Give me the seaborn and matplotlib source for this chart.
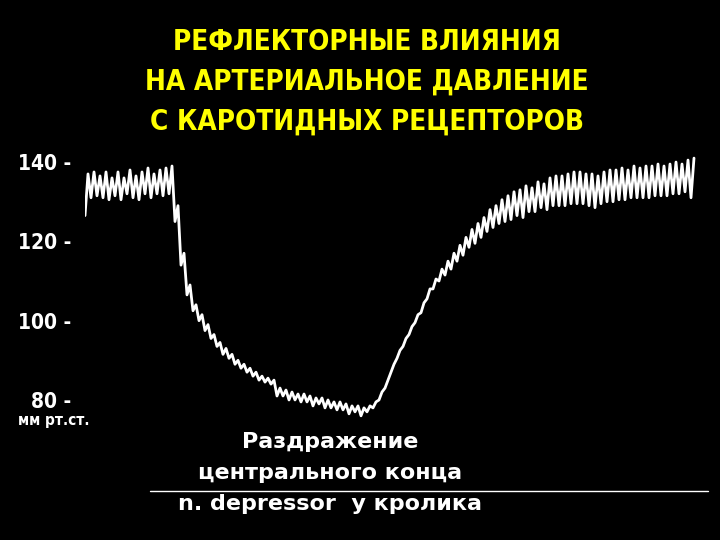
import matplotlib
matplotlib.use("Agg")
import matplotlib.pyplot as plt
import matplotlib.lines as mlines
import numpy as np
import pandas as pd
import seaborn as sns

# blood pressure trace: one value pair per pulse beat
beat_time = list(range(0, 612, 6))  # chart paper position of each beat
systolic = [137, 137.5, 136.5, 137.5, 136, 137.5, 136, 138, 136.5, 137.5, 138.5, 137, 138, 138.5, 139,
            129, 117, 109, 104, 101.5, 99, 96.5, 94.5, 93, 91.5, 90, 89, 88, 87, 86, 85.5, 85,
            83, 82.5, 82, 81.5, 81.5, 81, 80.5, 80.5, 80, 79.5, 79.5, 79, 78.5, 78.5, 78, 78.5, 79.5,
            82, 85, 89, 92.5, 95.5, 98.5, 101.5, 104.5, 108, 110.5,
            113, 115, 117, 119, 121, 123, 124.5, 126, 128, 129, 130.5,
            131.5, 132.5, 133, 134, 133.5, 135, 134.5, 136, 136.5, 136.5,
            137, 137.5, 137.5, 137, 137, 136.5, 137.5, 138, 138, 138.5, 138, 139, 138.5, 139, 139, 139.5,
            139, 139.5, 140, 139.5, 140.5, 141]
diastolic = [126.5, 131, 131.5, 131, 130.5, 131.5, 130.5, 132, 131, 130.5, 132, 131, 132, 131.5, 132,
             125, 114, 106.5,
             102.5, 100, 97.5, 95.5, 93.5, 91.5, 90.5, 89, 88, 87, 86, 85, 84.5, 84,
             81, 81, 80, 80, 79.5, 79.5, 78.5, 79, 78, 78, 77.5, 77.5, 76.5, 77, 76, 77, 78,
             80, 83, 87, 90.5, 93.5, 96.5, 99.5, 102, 105.5, 108,
             110, 111.5, 113, 115, 116.5, 118.5, 119.5, 121, 122.5, 123.5, 124.5,
             125, 125.5, 126.5, 126, 127.5, 127.5, 128.5, 128, 129, 129,
             129, 129.5, 129.5, 129.5, 129, 128.5, 129.5, 130, 130, 130.5, 130.5, 131, 131, 131, 131, 131.5,
             131.5, 131.5, 132, 132, 132.5, 131]

pressure_ticks = [80, 100, 120, 140]
tick_labels = ["80 -", "100 -", "120 -", "140 -"]
title_lines = ["РЕФЛЕКТОРНЫЕ ВЛИЯНИЯ", "НА АРТЕРИАЛЬНОЕ ДАВЛЕНИЕ", "С КАРОТИДНЫХ РЕЦЕПТОРОВ"]
caption_lines = ["Раздражение", "центрального конца", "n. depressor  у кролика"]
unit_label = "мм рт.ст."

sns.set_theme(style="dark", rc={"figure.facecolor": "black", "axes.facecolor": "black"})
narrow = dict(family="DejaVu Sans", stretch="condensed", fontweight="bold")

# build the zigzag: diastolic trough then systolic peak for each beat
t = np.array(beat_time, dtype=float)
trace = pd.DataFrame({
    "time": np.column_stack([t, t + 3]).ravel(),
    "pressure": np.column_stack([diastolic, systolic]).ravel(),
})

fig = plt.figure(figsize=(7.2, 5.4), dpi=100)
ax = fig.add_axes([85 / 720, 1 - 439.6 / 540, 615 / 720, (439.6 - 122.4) / 540])
sns.lineplot(data=trace, x="time", y="pressure", ax=ax, color="white", lw=2,
             sort=False, estimator=None)
ax.set_xlim(0, 615)
ax.set_ylim(70, 150)
ax.set_xticks([])
ax.set_yticks(pressure_ticks)
ax.set_yticklabels(tick_labels, color="white", fontsize=15, **narrow)
ax.tick_params(axis="y", length=0, pad=10)
ax.set_xlabel("")
ax.set_ylabel("")
for s in ax.spines.values():
    s.set_visible(False)
ax.grid(False)

# title in yellow
for i, line in enumerate(title_lines):
    fig.text(367 / 720, 1 - (50 + 40 * i) / 540, line, color="#ffff00", fontsize=20,
             ha="center", va="baseline", **narrow)

fig.text(54 / 720, 1 - 421 / 540, unit_label, color="white", fontsize=11,
         ha="center", va="center", **narrow)

for i, line in enumerate(caption_lines):
    fig.text(330 / 720, 1 - (442 + 31 * i) / 540, line, color="white", fontsize=16,
             fontweight="bold", ha="center", va="center")

fig.add_artist(mlines.Line2D([150 / 720, 708 / 720], [1 - 491 / 540, 1 - 491 / 540],
                             color="white", lw=1))

fig.savefig("out.png", dpi=100, facecolor="black")
